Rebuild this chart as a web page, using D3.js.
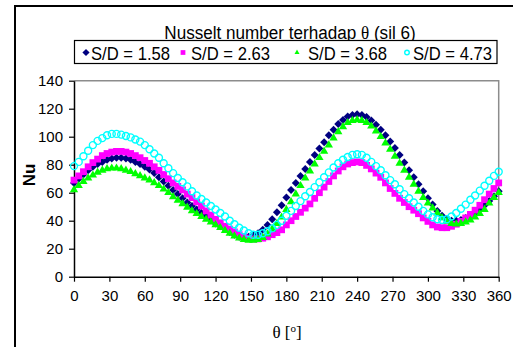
<!DOCTYPE html>
<html>
<head>
<meta charset="utf-8">
<script src="https://cdn.jsdelivr.net/npm/d3@7"></script>
<style>
  body { margin: 0; background: #fff; }
  svg { display: block; }
  text { font-family: "Liberation Sans", Arial, sans-serif; fill: #000; }
</style>
</head>
<body>
<figure id="chart" style="margin:0"></figure>
<script>
// angles in degrees, one reading every 4 degrees
const theta = d3.range(0, 361, 4);

const seriesNames = ["S/D = 1.58", "S/D = 2.63", "S/D = 3.68", "S/D = 4.73"];

const nu158 = [
  67, 70, 73, 76, 78.5, 80.5, 82, 83.5, 84.5, 85,
  85, 84.5, 83.5, 82, 80.5, 78.5, 76.5, 74, 71, 68,
  65, 62, 59, 56, 53, 50.5, 48, 45.5, 43, 40.5,
  38, 36, 34, 32, 30, 28.5, 28, 28.5, 29.5, 31,
  33.5, 37, 41, 46, 51, 56.5, 62, 67, 72, 77,
  82, 87, 91.5, 96, 101, 105, 109, 112, 114.5, 115.5,
  116, 115.5, 114, 111.5, 108.5, 105, 101, 96.5, 92, 87,
  81.5, 76, 71, 66, 61, 56, 51.5, 47, 43.5, 41,
  40, 40, 40.5, 42, 43.5, 45.5, 48, 51, 54, 57.5,
  61
];

const nu263 = [
  69, 72, 75, 78.5, 81.5, 84, 86.5, 88, 89, 89.5,
  89.5, 89, 88, 86.5, 85, 83, 81, 78.5, 76, 73,
  70, 67, 64.5, 62, 59, 56.5, 53.5, 50.5, 47, 44,
  41, 38.5, 36, 34, 32, 30, 28.5, 27.5, 27, 27,
  27.5, 28.5, 30, 31.5, 33.5, 37, 40, 43, 46, 49,
  52, 56, 60, 64, 68, 72, 75.5, 78.5, 80.5, 81.5,
  82, 81.5, 79.5, 77, 74, 71, 67, 63, 59.5, 56,
  53, 50, 47.5, 45, 42, 39.5, 37, 35.5, 35, 35,
  36, 37.5, 39.5, 42, 44.5, 47.5, 51, 55, 59, 63,
  67
];

const nu368 = [
  62, 65, 68, 70.5, 72.5, 74.5, 76, 77, 77.5, 77.5,
  77, 76, 75, 73.5, 72, 70.5, 69, 67, 65, 62.5,
  60, 57, 54.5, 52, 49.5, 47, 45, 43, 41, 39,
  37, 35, 33, 31, 29, 27.5, 26.5, 26, 26, 26.5,
  28, 30.5, 34, 38, 42.5, 48, 53.5, 59, 65, 70.5,
  75.5, 80.5, 85, 89.5, 94, 99, 103.5, 107, 110, 111.5,
  112, 111.5, 110, 107.5, 104, 100, 95.5, 91, 86, 81,
  76, 71, 66, 61, 56.5, 52.5, 49, 45.5, 42, 39.5,
  38, 37.5, 38, 39, 40.5, 42.5, 45, 48, 52.5, 56.5,
  60
];

const nu473 = [
  79, 82, 86, 90, 94, 97, 99, 101, 102, 102,
  101.5, 100.5, 99.5, 98, 96.5, 94, 91, 88, 85, 81,
  77.5, 74, 70.5, 67.5, 64.5, 61, 58, 55.5, 53, 50.5,
  48, 45.5, 43, 40, 37.5, 35, 33, 31, 30, 30,
  31, 32.5, 34.5, 37, 40, 43.5, 47, 50.5, 54, 57.5,
  60.5, 64, 67.5, 71, 74.5, 78, 81, 83.5, 85.5, 87,
  87.5, 87, 85, 82, 79, 76, 72.5, 69, 66, 62.5,
  59, 56, 53, 50, 47, 44.5, 42.5, 41, 40.5, 41,
  43, 45.5, 48.5, 51.5, 55, 58, 61.5, 65, 68.5, 72,
  75
];

const xTicks = [0, 30, 60, 90, 120, 150, 180, 210, 240, 270, 300, 330, 360];
const yTicks = [0, 20, 40, 60, 80, 100, 120, 140];

const W = 513, H = 347;
const plot = {left: 74, right: 498.7, top: 80.7, bottom: 276.7};

const svg = d3.select("#chart").append("svg")
  .attr("width", W).attr("height", H);

svg.append("rect").attr("width", W).attr("height", H).attr("fill", "#fff");

// outer chart frame (cut off by the picture on right and bottom)
svg.append("path")
  .attr("d", "M15," + (H + 5) + "V6H" + (W + 5))
  .attr("fill", "none").attr("stroke", "#000").attr("stroke-width", 2);

const x = d3.scaleLinear().domain([0, 360]).range([plot.left, plot.right]);
const y = d3.scaleLinear().domain([0, 140]).range([plot.bottom, plot.top]);

// plot area border, grey on top and right
svg.append("path")
  .attr("d", `M${plot.left},${plot.top}H${plot.right}V${plot.bottom}`)
  .attr("fill", "none").attr("stroke", "#8c8c8c").attr("stroke-width", 1.5);

// axes
const gx = svg.append("g")
  .attr("transform", `translate(0,${plot.bottom})`)
  .call(d3.axisBottom(x).tickValues(xTicks).tickSize(5).tickPadding(9).tickSizeOuter(0));
const gy = svg.append("g")
  .attr("transform", `translate(${plot.left},0)`)
  .call(d3.axisLeft(y).tickValues(yTicks).tickSize(5).tickPadding(6).tickSizeOuter(0));

[gx, gy].forEach(g => {
  g.select(".domain").attr("stroke", "#000").attr("stroke-width", 1.5);
  g.selectAll(".tick line").attr("stroke", "#000").attr("stroke-width", 1.2);
  g.selectAll(".tick text")
    .style("font-family", '"Liberation Sans", Arial, sans-serif')
    .style("font-size", "15px").attr("fill", "#000");
});

// markers
const series = [
  {name: seriesNames[0], values: nu158, type: "diamond", color: "#000080"},
  {name: seriesNames[1], values: nu263, type: "square", color: "#ff00ff"},
  {name: seriesNames[2], values: nu368, type: "triangle", color: "#00ff00"},
  {name: seriesNames[3], values: nu473, type: "circle", color: "#00ffff"}
];

function drawMarker(g, type, color, scale) {
  const s = scale || 1;
  if (type === "diamond") {
    g.append("path").attr("d", d3.symbol(d3.symbolSquare, 32 * s * s)())
      .attr("transform", "rotate(45)").attr("fill", color);
  } else if (type === "square") {
    g.append("path").attr("d", d3.symbol(d3.symbolSquare, 46 * s * s)()).attr("fill", color);
  } else if (type === "triangle") {
    g.append("path").attr("d", d3.symbol(d3.symbolTriangle, 30 * s * s)()).attr("fill", color);
  } else {
    g.append("circle").attr("r", 3.5 * s).attr("fill", "none")
      .attr("stroke", color).attr("stroke-width", 1.4);
  }
}

series.forEach(sr => {
  const g = svg.append("g");
  sr.values.forEach((v, i) => {
    const m = g.append("g").attr("transform", `translate(${x(theta[i])},${y(v)})`);
    drawMarker(m, sr.type, sr.color);
  });
});

// title (the original font is a bit narrow, so squeeze it sideways)
const title = svg.append("text")
  .attr("transform", "translate(290,39) scale(0.9,1)")
  .attr("text-anchor", "middle")
  .style("font-size", "19px");
title.append("tspan").text("Nusselt number terhadap ");
title.append("tspan").style("font-family", '"Liberation Serif", "Times New Roman", serif').text("θ");
title.append("tspan").text(" (sil 6)");

// legend
svg.append("rect")
  .attr("x", 74.5).attr("y", 40.5).attr("width", 422.5).attr("height", 23)
  .attr("fill", "#fff").attr("stroke", "#000").attr("stroke-width", 1.2);

const legendMarkerX = [86, 183, 297, 407];
const legendTextX = [91, 191, 308, 413];
const legendMarkerScale = [0.9, 0.7, 0.6, 0.65];
series.forEach((sr, i) => {
  const m = svg.append("g").attr("transform", `translate(${legendMarkerX[i]},52.5)`);
  drawMarker(m, sr.type, sr.color, legendMarkerScale[i]);
  svg.append("text")
    .attr("transform", `translate(${legendTextX[i]},60) scale(0.9,1)`)
    .style("font-size", "18.5px")
    .text(sr.name);
});

// axis titles
svg.append("text")
  .attr("transform", "translate(35,175) rotate(-90)")
  .attr("text-anchor", "middle")
  .style("font-size", "17px").style("font-weight", "bold")
  .text("Nu");

const xl = svg.append("text")
  .attr("x", 287).attr("y", 338)
  .attr("text-anchor", "middle")
  .style("font-family", '"Liberation Serif", "Times New Roman", serif')
  .style("font-size", "17px");
xl.append("tspan").text("θ [");
xl.append("tspan").attr("dy", -6).style("font-size", "11px").text("o");
xl.append("tspan").attr("dy", 6).text("]");
</script>
</body>
</html>
